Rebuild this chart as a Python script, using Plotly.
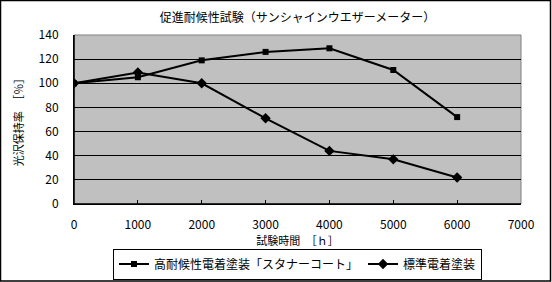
import plotly.graph_objects as go

hours = [0, 1000, 2000, 3000, 4000, 5000, 6000]
high_durability = [100, 105, 119, 126, 129, 111, 72]
standard = [100, 109, 100, 71, 44, 37, 22]
name_high = "高耐候性電着塗装「スタナーコート」"
name_std = "標準電着塗装"
title_text = "促進耐候性試験（サンシャインウエザーメーター）"
x_title = "試験時間　［ｈ］"
y_title = "光沢保持率　［％］"
x_ticks = [0, 1000, 2000, 3000, 4000, 5000, 6000, 7000]
y_ticks = [0, 20, 40, 60, 80, 100, 120, 140]

FONT = "Noto Sans CJK JP, sans-serif"

fig = go.Figure()
fig.add_trace(go.Scatter(
    x=hours, y=high_durability, name=name_high, mode="lines+markers",
    line=dict(color="black", width=2),
    marker=dict(symbol="square", size=6, color="black"),
))
fig.add_trace(go.Scatter(
    x=hours, y=standard, name=name_std, mode="lines+markers",
    line=dict(color="black", width=2),
    marker=dict(symbol="diamond", size=8, color="black"),
))

W, H = 552, 282
ml, mr, mt, mb = 74, 31, 35, 78

fig.update_layout(
    width=W, height=H,
    margin=dict(l=ml, r=mr, t=mt, b=mb, autoexpand=False),
    paper_bgcolor="white", plot_bgcolor="#c0c0c0",
    font=dict(family=FONT, size=12, color="black"),
    title=dict(text=title_text, x=0.5, xref="paper", y=1 - 18 / H, yanchor="middle",
               font=dict(size=12, family=FONT)),
    showlegend=True,
    legend=dict(orientation="h", x=0.5, xanchor="center", y=-(264 - 204) / (H - mt - mb),
                yanchor="middle", bordercolor="black", borderwidth=1, bgcolor="white",
                font=dict(size=12, family=FONT), entrywidth=0, itemwidth=30,
                tracegroupgap=0),
    xaxis=dict(range=[0, 7000], tickvals=x_ticks, ticktext=[str(v) for v in x_ticks],
               showgrid=False, zeroline=False, showline=True, linecolor="black",
               linewidth=1, ticks="inside", ticklen=4, tickcolor="black",
               ticklabelstandoff=10, tickfont=dict(size=12), automargin=False,
               title=dict(text=x_title, font=dict(size=11), standoff=4)),
    yaxis=dict(range=[0, 140], tickvals=y_ticks, ticktext=[str(v) for v in y_ticks],
               showgrid=True, gridcolor="black", gridwidth=1, zeroline=False,
               showline=True, linecolor="black", linewidth=1, ticks="",
               ticklabelstandoff=12, tickfont=dict(size=12), automargin=False,
               title=dict(text=y_title, font=dict(size=11), standoff=12)),
    shapes=[
        dict(type="rect", xref="paper", yref="paper", x0=0, x1=1, y0=0, y1=1,
             line=dict(color="#808080", width=1), layer="below"),
        dict(type="line", xref="paper", yref="paper", x0=0, x1=0, y0=0, y1=1,
             line=dict(color="black", width=1.5)),
        dict(type="line", xref="paper", yref="paper", x0=0, x1=1, y0=0, y1=0,
             line=dict(color="black", width=1.5)),
        dict(type="rect", xref="paper", yref="paper",
             x0=-ml / (W - ml - mr) + 0.5 / (W - ml - mr), x1=1 + (mr - 1.5) / (W - ml - mr),
             y0=-(mb - 1) / (H - mt - mb), y1=1 + (mt - 0.5) / (H - mt - mb),
             line=dict(color="black", width=1.5)),
    ],
)

fig.write_html("out.html")
